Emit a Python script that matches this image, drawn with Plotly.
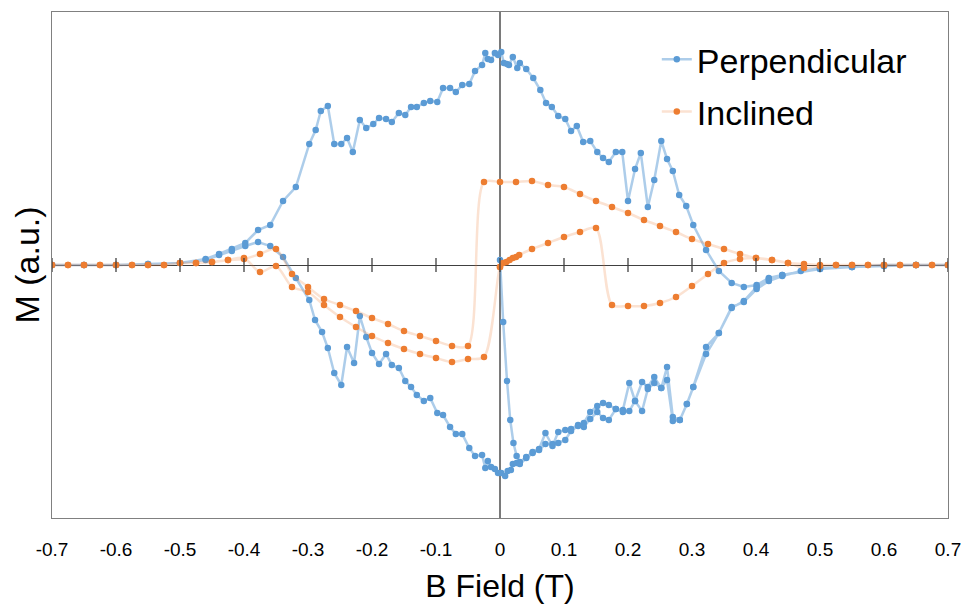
import plotly.graph_objects as go

# ---- Perpendicular sample: field B (T) and magnetisation M (a.u.) ----
# first sweep from zero field up to +0.7 T
PERP_VIRGIN_B = [0.0, 0.005, 0.011, 0.016, 0.021, 0.026, 0.031, 0.041, 0.051, 0.061,
                 0.071, 0.082, 0.091, 0.102, 0.111, 0.122, 0.131, 0.141, 0.152, 0.161,
                 0.170, 0.181, 0.192, 0.202, 0.211, 0.222, 0.231, 0.241, 0.252, 0.261,
                 0.270, 0.281, 0.292, 0.302, 0.322, 0.342, 0.362, 0.381, 0.401, 0.420,
                 0.441, 0.47, 0.5, 0.55, 0.6, 0.65, 0.7]
PERP_VIRGIN_M = [0.05, -0.57, -1.16, -1.55, -1.78, -1.91, -1.97, -1.92, -1.87, -1.84,
                 -1.68, -1.81, -1.67, -1.65, -1.64, -1.60, -1.58, -1.47, -1.41, -1.38,
                 -1.40, -1.44, -1.45, -1.18, -1.36, -1.17, -1.22, -1.12, -1.23, -1.02,
                 -1.52, -1.55, -1.39, -1.22, -0.82, -0.68, -0.42, -0.37, -0.24, -0.16,
                 -0.11, -0.06, -0.04, -0.02, -0.01, 0.0, 0.0]

# sweep down from +0.7 T to -0.7 T
PERP_DOWN_B = [0.7, 0.65, 0.6, 0.55, 0.5, 0.441, 0.420, 0.401, 0.381, 0.362,
               0.342, 0.322, 0.302, 0.291, 0.280, 0.270, 0.261, 0.252, 0.241, 0.231,
               0.220, 0.211, 0.200, 0.191, 0.181, 0.170, 0.161, 0.152, 0.141, 0.130,
               0.120, 0.111, 0.102, 0.091, 0.081, 0.072, 0.063, 0.052, 0.041, 0.031,
               0.027, 0.020, 0.014, 0.011, 0.006, 0.002, -0.003, -0.008, -0.014, -0.019,
               -0.023, -0.028, -0.039, -0.048, -0.059, -0.069, -0.078, -0.089, -0.098, -0.109,
               -0.119, -0.130, -0.139, -0.148, -0.158, -0.169, -0.178, -0.189, -0.198, -0.209,
               -0.219, -0.230, -0.239, -0.248, -0.259, -0.269, -0.280, -0.288, -0.298, -0.319,
               -0.339, -0.359, -0.378, -0.398, -0.419, -0.439, -0.46, -0.5, -0.55, -0.6,
               -0.65, -0.7]
PERP_DOWN_M = [0.0, 0.0, 0.0, -0.02, -0.03, -0.10, -0.13, -0.20, -0.22, -0.18,
               -0.06, 0.15, 0.40, 0.59, 0.70, 0.94, 1.06, 1.24, 0.85, 0.58,
               1.12, 0.96, 0.64, 1.13, 1.13, 1.03, 1.07, 1.13, 1.24, 1.23,
               1.39, 1.34, 1.46, 1.49, 1.58, 1.62, 1.75, 1.87, 1.96, 2.02,
               1.97, 2.08, 2.00, 2.01, 2.02, 2.13, 2.10, 2.12, 2.05, 2.06,
               2.12, 2.00, 1.94, 1.81, 1.80, 1.73, 1.77, 1.77, 1.63, 1.64,
               1.62, 1.58, 1.58, 1.50, 1.52, 1.43, 1.46, 1.47, 1.41, 1.37,
               1.45, 1.13, 1.27, 1.21, 1.21, 1.59, 1.54, 1.35, 1.21, 0.78,
               0.64, 0.40, 0.35, 0.22, 0.16, 0.11, 0.06, 0.02, 0.01, 0.0,
               0.0, 0.0]

# sweep back up from -0.7 T to +0.7 T
PERP_UP_B = [-0.7, -0.65, -0.6, -0.55, -0.5, -0.46, -0.439, -0.419, -0.398, -0.378,
             -0.359, -0.339, -0.319, -0.298, -0.289, -0.278, -0.269, -0.259, -0.248, -0.239,
             -0.228, -0.219, -0.209, -0.200, -0.189, -0.178, -0.169, -0.158, -0.148, -0.139,
             -0.130, -0.119, -0.109, -0.098, -0.089, -0.078, -0.069, -0.059, -0.048, -0.039,
             -0.028, -0.023, -0.019, -0.014, -0.008, -0.003, 0.002, 0.008, 0.012, 0.017,
             0.020, 0.026, 0.031, 0.041, 0.051, 0.061, 0.071, 0.082, 0.091, 0.102,
             0.111, 0.122, 0.131, 0.141, 0.152, 0.161, 0.170, 0.181, 0.192, 0.202,
             0.211, 0.222, 0.231, 0.241, 0.252, 0.261, 0.270, 0.281, 0.292, 0.302,
             0.322, 0.342, 0.362, 0.381, 0.401, 0.420, 0.441, 0.5, 0.55, 0.6,
             0.65, 0.7]
PERP_UP_M = [0.0, 0.0, 0.0, 0.01, 0.02, 0.05, 0.10, 0.14, 0.19, 0.23,
             0.19, 0.08, -0.13, -0.35, -0.55, -0.67, -0.83, -1.08, -1.20, -0.82,
             -0.98, -0.51, -0.72, -0.88, -0.99, -0.89, -1.00, -1.03, -1.16, -1.22,
             -1.30, -1.36, -1.33, -1.48, -1.50, -1.62, -1.69, -1.69, -1.83, -1.91,
             -1.90, -2.03, -1.96, -2.02, -2.04, -2.08, -2.08, -2.11, -2.06, -2.05,
             -1.99, -1.98, -1.99, -1.93, -1.88, -1.85, -1.79, -1.79, -1.78, -1.75,
             -1.66, -1.61, -1.62, -1.54, -1.47, -1.53, -1.55, -1.44, -1.47, -1.46,
             -1.36, -1.46, -1.24, -1.18, -1.23, -1.15, -1.56, -1.55, -1.39, -1.22,
             -0.89, -0.68, -0.43, -0.36, -0.22, -0.14, -0.10, -0.04, -0.02, -0.01,
             0.0, 0.0]

# ---- Inclined sample ----
INCL_VIRGIN_B = [0.0, 0.005, 0.01, 0.015, 0.02, 0.025, 0.03, 0.05, 0.075, 0.1,
                 0.125, 0.15, 0.175, 0.2, 0.225, 0.25, 0.275, 0.3, 0.325, 0.35,
                 0.375, 0.4, 0.425, 0.45, 0.475, 0.5, 0.525, 0.55, 0.575, 0.6,
                 0.625, 0.65, 0.675, 0.7]
INCL_VIRGIN_M = [-0.02, 0.02, 0.03, 0.05, 0.07, 0.08, 0.10, 0.16, 0.22, 0.28,
                 0.33, 0.37, -0.40, -0.41, -0.41, -0.38, -0.32, -0.21, -0.09, 0.02,
                 0.06, 0.07, 0.05, 0.02, -0.03, -0.01, 0.0, 0.0, 0.0, 0.0,
                 0.0, 0.0, 0.0, 0.0]

INCL_DOWN_B = [0.7, 0.675, 0.65, 0.625, 0.6, 0.575, 0.55, 0.525, 0.5, 0.475,
               0.45, 0.425, 0.4, 0.375, 0.35, 0.325, 0.3, 0.275, 0.25, 0.225,
               0.2, 0.175, 0.15, 0.125, 0.1, 0.075, 0.05, 0.025, 0.0, -0.025,
               -0.05, -0.075, -0.1, -0.125, -0.15, -0.175, -0.2, -0.225, -0.25, -0.275,
               -0.3, -0.325, -0.35, -0.375, -0.4, -0.425, -0.45, -0.475, -0.5, -0.525,
               -0.55, -0.575, -0.6, -0.625, -0.65, -0.675, -0.7]
INCL_DOWN_M = [0.0, 0.0, 0.0, 0.0, 0.0, 0.0, 0.0, 0.0, 0.0, 0.01,
               0.02, 0.05, 0.07, 0.11, 0.16, 0.21, 0.26, 0.33, 0.39, 0.45,
               0.52, 0.58, 0.64, 0.71, 0.78, 0.80, 0.84, 0.83, 0.83, 0.83,
               -0.81, -0.81, -0.76, -0.71, -0.66, -0.59, -0.53, -0.46, -0.40, -0.34,
               -0.22, -0.09, 0.16, 0.11, 0.06, 0.05, 0.03, 0.02, 0.02, 0.0,
               0.0, 0.0, 0.0, 0.0, 0.0, 0.0, 0.0]

INCL_UP_B = [-0.7, -0.675, -0.65, -0.625, -0.6, -0.575, -0.55, -0.525, -0.5, -0.475,
             -0.45, -0.425, -0.4, -0.375, -0.35, -0.325, -0.3, -0.275, -0.25, -0.225,
             -0.2, -0.175, -0.15, -0.125, -0.1, -0.075, -0.05, -0.025, 0.0]
INCL_UP_M = [0.0, 0.0, 0.0, 0.0, 0.0, 0.0, 0.0, 0.0, 0.02, 0.02,
             0.03, 0.05, 0.07, -0.07, -0.01, -0.22, -0.27, -0.40, -0.52, -0.62,
             -0.71, -0.78, -0.84, -0.89, -0.93, -0.97, -0.94, -0.92, -0.02]

# ---- axis ticks ----
B_TICKS = [-0.7, -0.6, -0.5, -0.4, -0.3, -0.2, -0.1, 0.0, 0.1, 0.2, 0.3, 0.4, 0.5, 0.6, 0.7]
B_TICK_LABELS = ["-0.7", "-0.6", "-0.5", "-0.4", "-0.3", "-0.2", "-0.1", "0",
                 "0.1", "0.2", "0.3", "0.4", "0.5", "0.6", "0.7"]

FONT = "Liberation Sans, Arial, sans-serif"
BLUE = "#5B9BD5"
ORANGE = "#ED7D31"

perp_b = PERP_VIRGIN_B + PERP_DOWN_B + PERP_UP_B
perp_m = PERP_VIRGIN_M + PERP_DOWN_M + PERP_UP_M
incl_b = INCL_VIRGIN_B + INCL_DOWN_B + INCL_UP_B
incl_m = INCL_VIRGIN_M + INCL_DOWN_M + INCL_UP_M
assert len(perp_b) == len(perp_m) and len(incl_b) == len(incl_m)

fig = go.Figure()
fig.add_trace(go.Scatter(
    x=perp_b, y=perp_m, mode="lines+markers", name="Perpendicular", legendgroup="perp",
    line=dict(color="rgba(91,155,213,0.5)", width=2.5),
    marker=dict(color=BLUE, size=6.5),
))
fig.add_trace(go.Scatter(
    x=incl_b, y=incl_m, mode="lines+markers", name="Inclined", legendgroup="incl",
    line=dict(color="rgba(237,125,49,0.22)", width=2.5, shape="spline", smoothing=0.8),
    marker=dict(color=ORANGE, size=6.5),
))

# cross tick marks on the horizontal axis running through M = 0
tick_half = 0.07
for t in B_TICKS:
    fig.add_shape(type="line", xref="x", yref="y", x0=t, x1=t, y0=-tick_half, y1=tick_half,
                  line=dict(color="#404040", width=1.3), layer="above")

fig.update_layout(
    width=967, height=607,
    margin=dict(l=52, r=19, t=12, b=89, autoexpand=False),
    paper_bgcolor="white", plot_bgcolor="white",
    font=dict(family=FONT, color="black"),
    showlegend=True,
    legend=dict(x=0.675, y=0.963, xanchor="left", yanchor="top", tracegroupgap=5,
                font=dict(size=34, family=FONT), bgcolor="rgba(0,0,0,0)"),
    xaxis=dict(
        range=[-0.7, 0.7], tickvals=B_TICKS, ticktext=B_TICK_LABELS, automargin=False,
        ticks="", ticklabelstandoff=14, tickfont=dict(size=19, family=FONT),
        showgrid=False, showline=True, mirror=True, linecolor="#808080", linewidth=1.3,
        zeroline=True, zerolinecolor="#7a7a7a", zerolinewidth=1.8,
        title=dict(text="B Field (T)", font=dict(size=32, family=FONT), standoff=15),
    ),
    yaxis=dict(
        range=[-2.53, 2.53], showticklabels=False, ticks="", automargin=False,
        showgrid=False, showline=True, mirror=True, linecolor="#808080", linewidth=1.3,
        zeroline=True, zerolinecolor="#404040", zerolinewidth=1.2,
        title=dict(text="M (a.u.)", font=dict(size=34, family=FONT), standoff=0),
    ),
)

fig.write_html("out.html")
